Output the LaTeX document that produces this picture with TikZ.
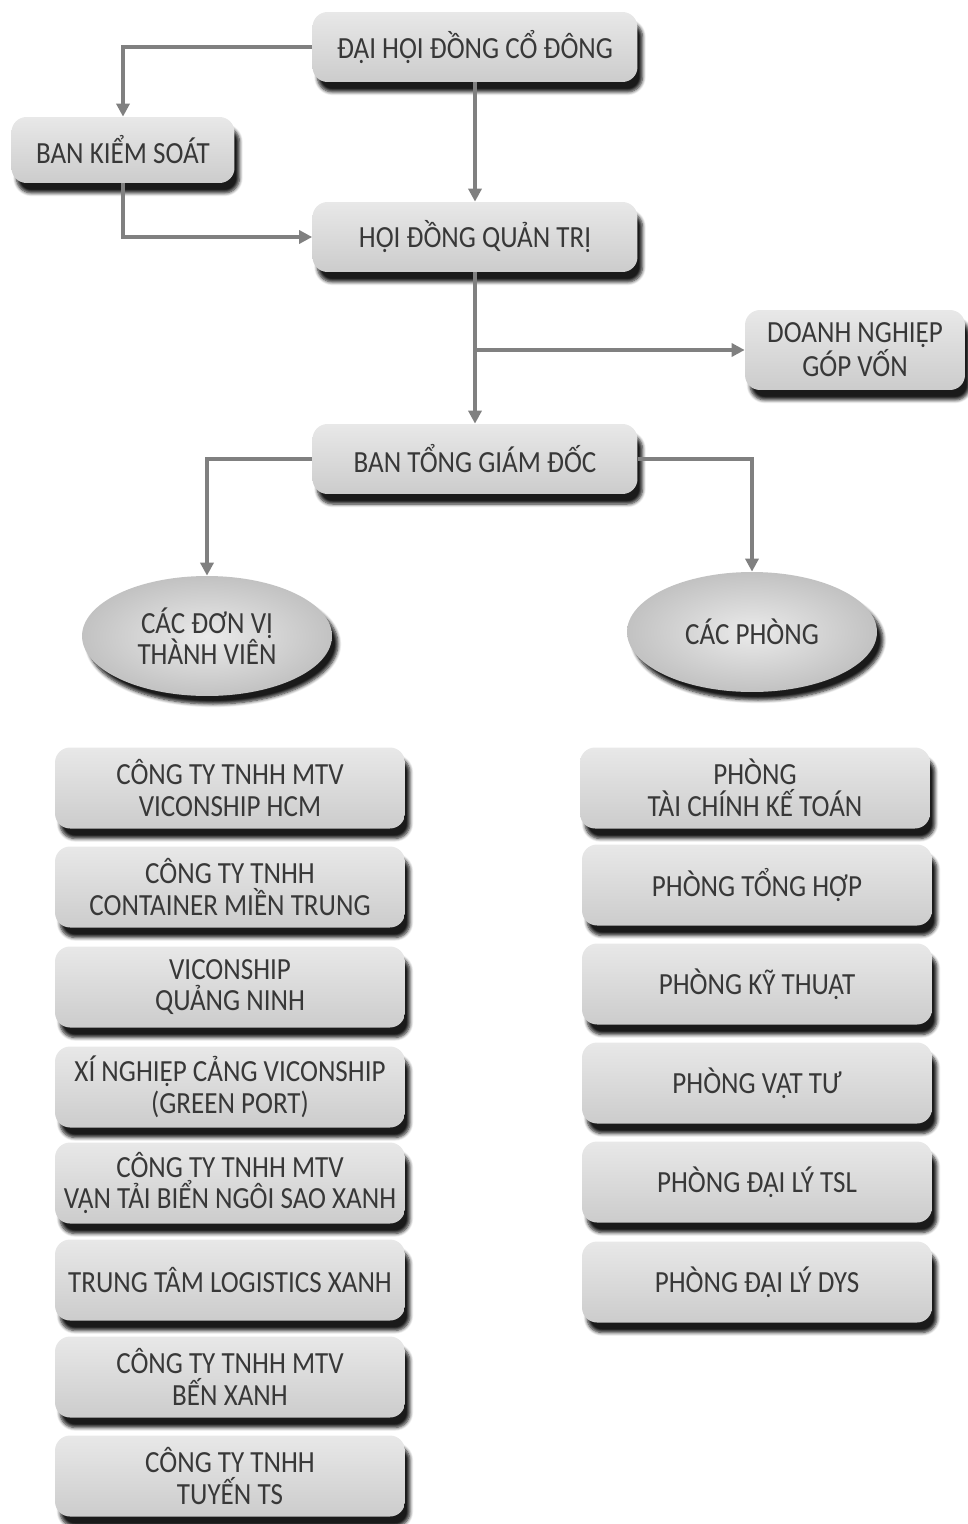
\documentclass[tikz,border=0pt]{standalone}
\usepackage{fontspec}
\setmainfont{Carlito}[FakeStretch=0.88]
\usepackage{tikz}
\usetikzlibrary{arrows.meta,shapes.geometric,shadows.blur}

\begin{document}
\begin{tikzpicture}[x=0.02cm,y=-0.02cm,
    box/.style={rounded corners=0.3cm,top color=black!9,bottom color=black!20,text=black!78,align=center,
      font=\fontsize{17.5}{18}\selectfont,inner sep=0pt,
      blur shadow={shadow xshift=0.1cm,shadow yshift=-0.2cm,shadow blur steps=6,shadow opacity=90}},
    oval/.style={ellipse,inner color=black!8,outer color=black!24,text=black!78,align=center,
      font=\fontsize{17.5}{18}\selectfont,inner sep=0pt,minimum width=5cm,minimum height=2.4cm,
      blur shadow={shadow xshift=0.12cm,shadow yshift=-0.16cm,shadow blur steps=6,shadow opacity=90}},
    conn/.style={draw=black!50,line width=2.2pt,-{Triangle[length=0.26cm,width=0.26cm]}}]
      \useasboundingbox (0,0) rectangle (967,1524);
      \node[box,minimum width=6.5cm,minimum height=1.4cm] (dh) at (475,47) {ĐẠI HỘI ĐỒNG CỔ ĐÔNG};
      \node[box,minimum width=4.46cm,minimum height=1.32cm] (bks) at (123,150) {BAN KIỂM SOÁT};
      \node[box,minimum width=6.5cm,minimum height=1.4cm] (hd) at (475,237) {HỘI ĐỒNG QUẢN TRỊ};
      \node[box,minimum width=4.4cm,minimum height=1.6cm] (dn) at (855,350) {DOANH NGHIỆP\\GÓP VỐN};
      \node[box,minimum width=6.5cm,minimum height=1.4cm] (tgd) at (475,459) {BAN TỔNG GIÁM ĐỐC};
      \node[oval] (dv) at (207,636) {CÁC ĐƠN VỊ\\THÀNH VIÊN};
      \node[oval] (ph) at (752,632) {CÁC PHÒNG};

      \node[box,minimum width=7cm,minimum height=1.62cm] (dv1) at (230,788) {CÔNG TY TNHH MTV\\VICONSHIP HCM};
      \node[box,minimum width=7cm,minimum height=1.62cm] (dv2) at (230,887) {CÔNG TY TNHH\\CONTAINER MIỀN TRUNG};
      \node[box,minimum width=7cm,minimum height=1.62cm] (dv3) at (230,987) {VICONSHIP\\QUẢNG NINH};
      \node[box,minimum width=7cm,minimum height=1.62cm] (dv4) at (230,1087) {XÍ NGHIỆP CẢNG VICONSHIP\\(GREEN PORT)};
      \node[box,minimum width=7cm,minimum height=1.62cm] (dv5) at (230,1183) {CÔNG TY TNHH MTV\\VẬN TẢI BIỂN NGÔI SAO XANH};
      \node[box,minimum width=7cm,minimum height=1.62cm] (dv6) at (230,1280) {TRUNG TÂM LOGISTICS XANH};
      \node[box,minimum width=7cm,minimum height=1.62cm] (dv7) at (230,1377) {CÔNG TY TNHH MTV\\BẾN XANH};
      \node[box,minimum width=7cm,minimum height=1.62cm] (dv8) at (230,1476) {CÔNG TY TNHH\\TUYẾN TS};

      \node[box,minimum width=7cm,minimum height=1.62cm] (ph1) at (755,788) {PHÒNG\\TÀI CHÍNH KẾ TOÁN};
      \node[box,minimum width=7cm,minimum height=1.62cm] (ph2) at (757,885) {PHÒNG TỔNG HỢP};
      \node[box,minimum width=7cm,minimum height=1.62cm] (ph3) at (757,984) {PHÒNG KỸ THUẬT};
      \node[box,minimum width=7cm,minimum height=1.62cm] (ph4) at (757,1083) {PHÒNG VẬT TƯ};
      \node[box,minimum width=7cm,minimum height=1.62cm] (ph5) at (757,1182) {PHÒNG ĐẠI LÝ TSL};
      \node[box,minimum width=7cm,minimum height=1.62cm] (ph6) at (757,1282) {PHÒNG ĐẠI LÝ DYS};

      \draw[conn] (dh.west) -| (bks.north);
      \draw[conn] (dh.south) -- (hd.north);
      \draw[conn] (bks.south) |- (hd.west);
      \draw[conn] (hd.south) -- (tgd.north);
      \coordinate (br) at (hd.south |- dn.west);
      \draw[conn] (br) -- (dn.west);
      \draw[conn] (tgd.west) -| (dv.north);
      \draw[conn] (tgd.east) -| (ph.north);
\end{tikzpicture}
\end{document}
